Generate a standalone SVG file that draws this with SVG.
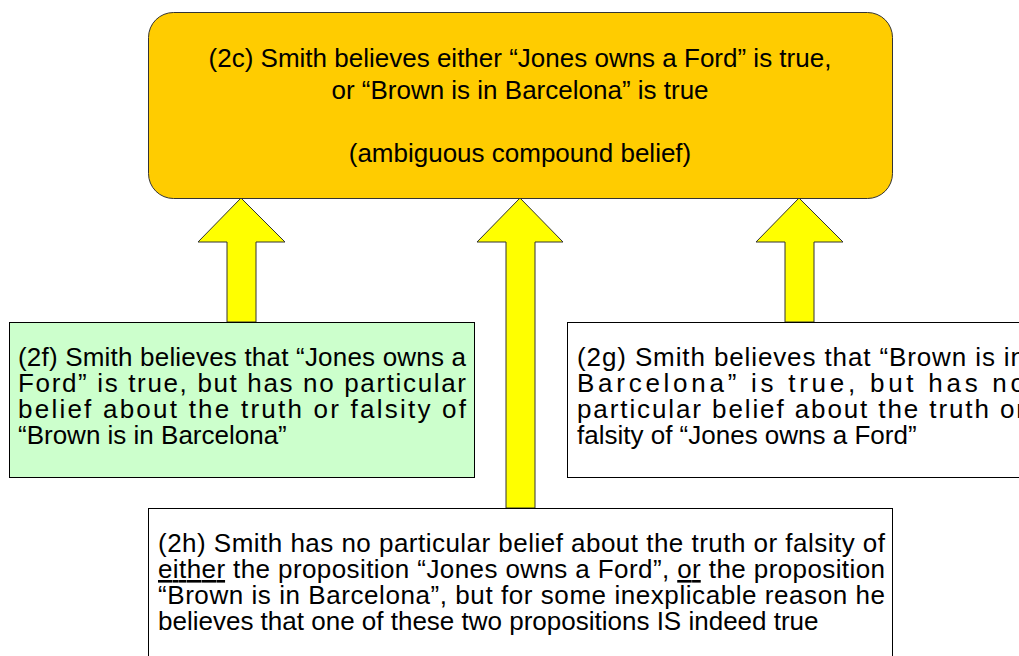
<svg xmlns="http://www.w3.org/2000/svg" width="1019" height="656" viewBox="0 0 1019 656">
<style>
  text { font-family: "Liberation Sans", Arial, sans-serif; font-size: 26px; fill: #000; }
  .c { text-anchor: middle; }
  .arrow { fill: #FFFF00; stroke: #333; stroke-width: 1; stroke-linejoin: miter; }
  .box { stroke: #000; stroke-width: 1; }
  .u { text-decoration: underline; }
</style>
<rect x="0" y="0" width="1019" height="656" fill="#fff"/>
<g id="connectors">
  <polygon class="arrow" points="241,198 285,242 256,242 256,322 227,322 227,242 198,242"/>
  <polygon class="arrow" points="520,198 563,242 535,242 535,508 506,508 506,242 477,242"/>
  <polygon class="arrow" points="799,198 843,242 814,242 814,322 785,322 785,242 756,242"/>
</g>
<g id="node-2c">
  <rect x="148.5" y="12.5" width="744" height="186" rx="25" ry="25" fill="#FFCC00" stroke="#333" stroke-width="1"/>
  <text class="c" x="520" y="67">(2c) Smith believes either “Jones owns a Ford” is true,</text>
  <text class="c" x="520" y="98.5">or “Brown is in Barcelona” is true</text>
  <text class="c" x="520" y="161.5">(ambiguous compound belief)</text>
</g>
<g id="node-2f">
  <rect class="box" x="9.5" y="322.5" width="465" height="155" fill="#CCFFCC"/>
  <text x="18" y="366" textLength="448" lengthAdjust="spacing">(2f) Smith believes that “Jones owns a</text>
  <text x="18" y="392" textLength="448" lengthAdjust="spacing">Ford” is true, but has no particular</text>
  <text x="18" y="418" textLength="448" lengthAdjust="spacing">belief about the truth or falsity of</text>
  <text x="18" y="444">“Brown is in Barcelona”</text>
</g>
<g id="node-2g">
  <rect class="box" x="567.5" y="322.5" width="470" height="155" fill="#FFFFFF"/>
  <text x="577" y="366" textLength="448" lengthAdjust="spacing">(2g) Smith believes that “Brown is in</text>
  <text x="577" y="392" textLength="448" lengthAdjust="spacing">Barcelona” is true, but has no</text>
  <text x="577" y="418" textLength="448" lengthAdjust="spacing">particular belief about the truth or</text>
  <text x="577" y="444">falsity of “Jones owns a Ford”</text>
</g>
<g id="node-2h">
  <rect class="box" x="148.5" y="508.5" width="744" height="160" fill="#FFFFFF"/>
  <text x="158" y="552" textLength="727" lengthAdjust="spacing">(2h) Smith has no particular belief about the truth or falsity of</text>
  <text x="158" y="578" textLength="727" lengthAdjust="spacing"><tspan class="u">either</tspan> the proposition “Jones owns a Ford”, <tspan class="u">or</tspan> the proposition</text>
  <text x="158" y="604" textLength="727" lengthAdjust="spacing">“Brown is in Barcelona”, but for some inexplicable reason he</text>
  <text x="158" y="630">believes that one of these two propositions IS indeed true</text>
</g>
</svg>
